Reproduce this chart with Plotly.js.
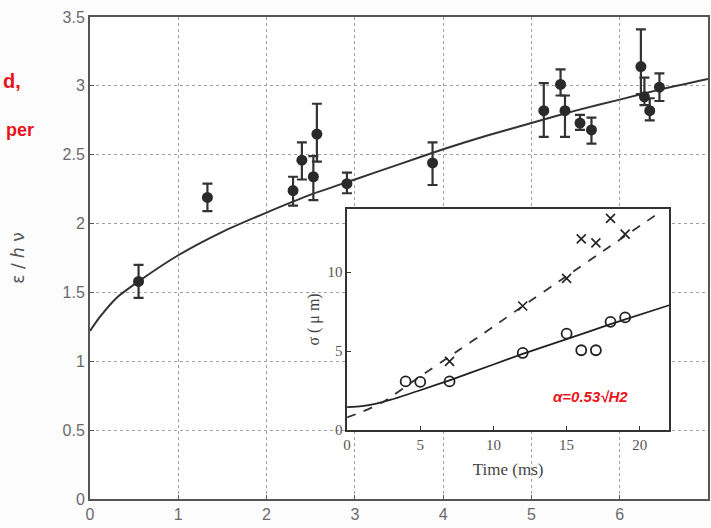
<!DOCTYPE html>
<html>
<head>
<meta charset="utf-8">
<script src="https://cdn.plot.ly/plotly-3.0.1.min.js"></script>
<style>html,body{margin:0;padding:0;background:#fcfcfd;}#chart{width:711px;height:528px;}</style>
</head>
<body>
<div id="chart"></div>
<script>
// Main plot: measured points with error bars
const mainX = [0.55, 1.33, 2.30, 2.40, 2.53, 2.57, 2.91, 3.88, 5.14, 5.33, 5.38, 5.55, 5.68, 6.24, 6.28, 6.34, 6.45];
const mainY = [1.58, 2.19, 2.24, 2.46, 2.34, 2.65, 2.29, 2.44, 2.82, 3.01, 2.82, 2.73, 2.68, 3.14, 2.92, 2.82, 2.99];
const errPlus = [0.12, 0.10, 0.10, 0.13, 0.15, 0.22, 0.08, 0.15, 0.20, 0.11, 0.11, 0.06, 0.09, 0.27, 0.14, 0.09, 0.10];
const errMinus = [0.12, 0.10, 0.11, 0.14, 0.17, 0.20, 0.07, 0.16, 0.19, 0.08, 0.19, 0.05, 0.10, 0.20, 0.06, 0.07, 0.10];
// Main fitted curve
const curveX = [0, 0.11, 0.3, 0.55, 1.0, 1.5, 2.0, 2.5, 3.0, 3.5, 4.0, 4.5, 5.0, 5.5, 6.0, 6.5, 7.0];
const curveY = [1.22, 1.32, 1.46, 1.58, 1.77, 1.94, 2.08, 2.21, 2.32, 2.43, 2.54, 2.64, 2.73, 2.82, 2.90, 2.98, 3.05];
// Inset: crosses and circles
const crossT = [7, 12, 15, 16, 17, 18, 19];
const crossS = [4.35, 7.85, 9.6, 12.1, 11.85, 13.4, 12.4];
const circT = [4, 5, 7, 12, 15, 16, 17, 18, 19];
const circS = [3.08, 3.05, 3.08, 4.88, 6.1, 5.05, 5.05, 6.85, 7.13];
// Inset lines
const solidT = [0, 1, 2, 3, 5, 7, 10, 12, 15, 18, 22];
const solidS = [1.45, 1.52, 1.68, 1.92, 2.52, 3.15, 4.15, 4.82, 5.75, 6.7, 7.9];
const dashT = [0, 1, 2.4, 5, 7, 10, 12, 15, 18, 21.4];
const dashS = [0.8, 1.15, 1.75, 3.4, 4.65, 6.55, 7.84, 9.74, 11.65, 13.8];

const mainTicksX = [0, 1, 2, 3, 4, 5, 6, 7];
const mainTicksY = [0, 0.5, 1, 1.5, 2, 2.5, 3, 3.5];
const mainTickTextY = ['0', '0.5', '1', '1.5', '2', '2.5', '3', '3.5'];
const insetTicksX = [0, 5, 10, 15, 20];
const insetTicksY = [0, 5, 10];

const dark = '#2a2a2a';
const traces = [
  {x: curveX, y: curveY, mode: 'lines', line: {color: '#333', width: 2, shape: 'spline', smoothing: 0.6}, xaxis: 'x', yaxis: 'y', hoverinfo: 'skip'},
  {x: mainX, y: mainY, mode: 'markers', marker: {color: dark, size: 11},
   error_y: {type: 'data', symmetric: false, array: errPlus, arrayminus: errMinus, color: '#333', thickness: 2.2, width: 5},
   xaxis: 'x', yaxis: 'y'},
  {x: solidT, y: solidS, mode: 'lines', line: {color: '#222', width: 1.8, shape: 'spline', smoothing: 0.6}, xaxis: 'x2', yaxis: 'y2'},
  {x: dashT, y: dashS, mode: 'lines', line: {color: '#333', width: 1.8, dash: 'dash', shape: 'spline', smoothing: 0.6}, xaxis: 'x2', yaxis: 'y2'},
  {x: crossT, y: crossS, mode: 'markers', marker: {symbol: 'x-thin-open', size: 9, color: '#222', line: {color: '#222', width: 1.6}}, xaxis: 'x2', yaxis: 'y2'},
  {x: circT, y: circS, mode: 'markers', marker: {symbol: 'circle-open', size: 10, color: '#222', line: {color: '#222', width: 1.8}}, xaxis: 'x2', yaxis: 'y2'}
];

const gridCol = '#a0a0a0';
const layout = {
  width: 711, height: 528,
  margin: {l: 90, r: 3, t: 17, b: 29},
  paper_bgcolor: '#fcfcfd', plot_bgcolor: '#ffffff',
  showlegend: false,
  font: {family: 'Liberation Sans, Arial, sans-serif', color: '#6a6a6a', size: 15},
  xaxis: {range: [0, 7], tickvals: mainTicksX, ticktext: mainTicksX.map(String), showgrid: true, gridcolor: gridCol, griddash: 'dot', gridwidth: 1,
          zeroline: false, showline: true, linecolor: '#555', linewidth: 2, mirror: true, ticks: 'inside', ticklen: 4, tickcolor: '#555',
          tickfont: {size: 16, color: '#6a6a6a'}, domain: [0, 1]},
  yaxis: {range: [0, 3.5], tickvals: mainTicksY, ticktext: mainTickTextY, showgrid: true, gridcolor: gridCol, griddash: 'dot', gridwidth: 1,
          zeroline: false, showline: true, linecolor: '#555', linewidth: 2, mirror: true, ticks: 'inside', ticklen: 4, tickcolor: '#555',
          tickfont: {size: 16, color: '#6a6a6a'}, domain: [0, 1],
          title: {text: 'ε / <i>h</i> ν', font: {family: 'DejaVu Sans, sans-serif', size: 17, color: '#555'}, standoff: 34}},
  xaxis2: {range: [0, 22], tickvals: insetTicksX, showgrid: false, zeroline: false, showline: true, linecolor: '#333', linewidth: 1.6, mirror: true,
           ticks: 'inside', ticklen: 4, tickcolor: '#333', anchor: 'y2', domain: [0.416, 0.937],
           tickfont: {family: 'Liberation Serif, Times New Roman, serif', size: 15, color: '#555'},
           title: {text: 'Time (ms)', font: {family: 'Liberation Serif, Times New Roman, serif', size: 17, color: '#444'}, standoff: 11}},
  yaxis2: {range: [0, 14], tickvals: insetTicksY, showgrid: false, zeroline: false, showline: true, linecolor: '#333', linewidth: 1.6, mirror: true,
           ticks: 'inside', ticklen: 4, tickcolor: '#333', anchor: 'x2', domain: [0.143, 0.602],
           tickfont: {family: 'Liberation Serif, Times New Roman, serif', size: 15, color: '#555'},
           title: {text: 'σ ( μ m)', font: {family: 'Liberation Serif, Times New Roman, serif', size: 16, color: '#444'}, standoff: 4}},
  shapes: [
    {type: 'rect', xref: 'x2 domain', yref: 'y2 domain', x0: 0, x1: 1, y0: 0, y1: 1, fillcolor: '#ffffff', line: {width: 0}, layer: 'below'}
  ],
  annotations: [
    {text: 'd,', xref: 'paper', yref: 'paper', x: -0.108, y: 0.868, xanchor: 'right', yanchor: 'middle', showarrow: false,
     font: {family: 'Liberation Sans, sans-serif', size: 20, color: '#e8141c', weight: 'bold'}},
    {text: 'per', xref: 'paper', yref: 'paper', x: -0.088, y: 0.765, xanchor: 'right', yanchor: 'middle', showarrow: false,
     font: {family: 'Liberation Sans, sans-serif', size: 18, color: '#e8141c', weight: 'bold'}},
    {text: 'α=0.53√H2', xref: 'x2', yref: 'y2', x: 16.6, y: 2.1, xanchor: 'center', yanchor: 'middle', showarrow: false,
     font: {family: 'Liberation Sans, sans-serif', size: 15, color: '#e8141c', weight: 'bold', style: 'italic'}}
  ]
};

Plotly.newPlot('chart', traces, layout, {displayModeBar: false, staticPlot: true});
</script>
</body>
</html>
